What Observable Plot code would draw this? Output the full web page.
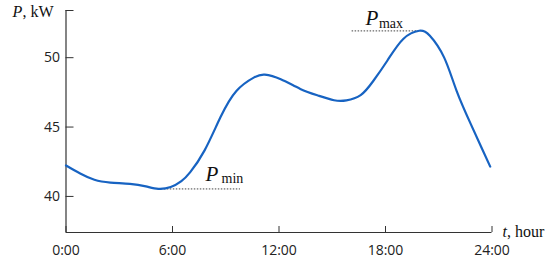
<!DOCTYPE html>
<html>
<head>
<meta charset="utf-8">
<script src="https://cdn.jsdelivr.net/npm/d3@7"></script>
<script src="https://cdn.jsdelivr.net/npm/@observablehq/plot@0.6"></script>
<style>
  html, body { margin: 0; padding: 0; background: #fff; }
  svg { display: block; }
</style>
</head>
<body>
<div id="chart"></div>
<script>
// Load profile: hour of day -> power (kW)
const hours = [0, 0.8, 1.6, 2.5, 3.6, 4.5, 5.2, 5.9, 6.5, 7.0, 7.8, 8.7, 9.6, 10.6, 11.2, 12.1, 13.2, 14.2, 15.1, 15.8, 16.6, 17.3, 18.1, 19.0, 19.9, 20.5, 21.3, 22.0, 22.8, 23.4, 23.9];
const power = [42.23, 41.65, 41.2, 41.0, 40.9, 40.72, 40.55, 40.68, 41.1, 41.75, 43.3, 45.7, 47.6, 48.58, 48.78, 48.45, 47.75, 47.27, 46.93, 46.92, 47.3, 48.3, 49.78, 51.35, 51.94, 51.58, 50.02, 47.63, 45.23, 43.55, 42.15];

const xTicks = [0, 6, 12, 18, 24];
const xTickLabels = ["0:00", "6:00", "12:00", "18:00", "24:00"];
const yTicks = [40, 45, 50];
const yDomain = [37.4, 53.4];
const xDomain = [0, 24];

// Pmin / Pmax reference lines
const pMin = {x1: 5.2, x2: 9.83, y: 40.54};
const pMax = {x1: 16.12, x2: 19.86, y: 51.93};

const data = hours.map((h, i) => ({h, p: power[i]}));
const serif = "'Liberation Serif', 'Times New Roman', serif";
const sans = "'Open Sans', 'Noto Sans', sans-serif";

const chart = Plot.plot({
  width: 550,
  height: 274,
  marginLeft: 65.5,
  marginRight: 58.5,
  marginTop: 10,
  marginBottom: 42,
  style: {fontFamily: sans, fontSize: "14px", color: "#222", background: "#fff"},
  x: {domain: xDomain},
  y: {domain: yDomain},
  marks: [
    Plot.ruleY([yDomain[0]], {stroke: "#333", strokeWidth: 1.2}),
    Plot.ruleX([xDomain[0]], {stroke: "#333", strokeWidth: 1.2}),
    Plot.axisY({ticks: yTicks, tickSize: -8, tickPadding: 14, label: null, fontSize: 14, stroke: "#333"}),
    Plot.axisY({ticks: [yDomain[1]], tickSize: -8, tickFormat: () => "", label: null, stroke: "#333"}),
    Plot.axisX({ticks: xTicks, tickSize: -6, tickPadding: 19, tickFormat: d => xTickLabels[xTicks.indexOf(d)], label: null, fontSize: 14, stroke: "#333"}),
    Plot.ruleY([pMin], {x1: "x1", x2: "x2", y: "y", stroke: "#444", strokeWidth: 1, strokeDasharray: "1.5,1.5"}),
    Plot.ruleY([pMax], {x1: "x1", x2: "x2", y: "y", stroke: "#444", strokeWidth: 1, strokeDasharray: "1.5,1.5"}),
    Plot.line(data, {x: "h", y: "p", curve: "natural", stroke: "#1763c2", strokeWidth: 2.2}),
    // Pmin label
    Plot.text(["P"], {x: 7.86, y: 41.1, text: d => d, textAnchor: "start", lineAnchor: "bottom", fontFamily: serif, fontStyle: "italic", fontSize: 21, fill: "#111"}),
    Plot.text(["min"], {x: 8.76, y: 40.96, text: d => d, textAnchor: "start", lineAnchor: "bottom", fontFamily: serif, fontSize: 14, fill: "#111"}),
    // Pmax label
    Plot.text(["P"], {x: 16.87, y: 52.35, text: d => d, textAnchor: "start", lineAnchor: "bottom", fontFamily: serif, fontStyle: "italic", fontSize: 21, fill: "#111"}),
    Plot.text(["max"], {x: 17.63, y: 52.16, text: d => d, textAnchor: "start", lineAnchor: "bottom", fontFamily: serif, fontSize: 14, fill: "#111"}),
    // Axis labels
    Plot.text(["P"], {frameAnchor: "top-left", dx: -53.5, dy: 6, text: d => d, textAnchor: "start", lineAnchor: "bottom", fontFamily: serif, fontStyle: "italic", fontSize: 16, fill: "#111"}),
    Plot.text([", kW"], {frameAnchor: "top-left", dx: -43.5, dy: 6, text: d => d, textAnchor: "start", lineAnchor: "bottom", fontFamily: serif, fontSize: 16, fill: "#111"}),
    Plot.text(["t"], {frameAnchor: "bottom-right", dx: 10.5, dy: 4, text: d => d, textAnchor: "start", lineAnchor: "bottom", fontFamily: serif, fontStyle: "italic", fontSize: 16, fill: "#111"}),
    Plot.text([", hour"], {frameAnchor: "bottom-right", dx: 15, dy: 4, text: d => d, textAnchor: "start", lineAnchor: "bottom", fontFamily: serif, fontSize: 16, fill: "#111"})
  ]
});
document.getElementById("chart").appendChild(chart);
</script>
</body>
</html>
